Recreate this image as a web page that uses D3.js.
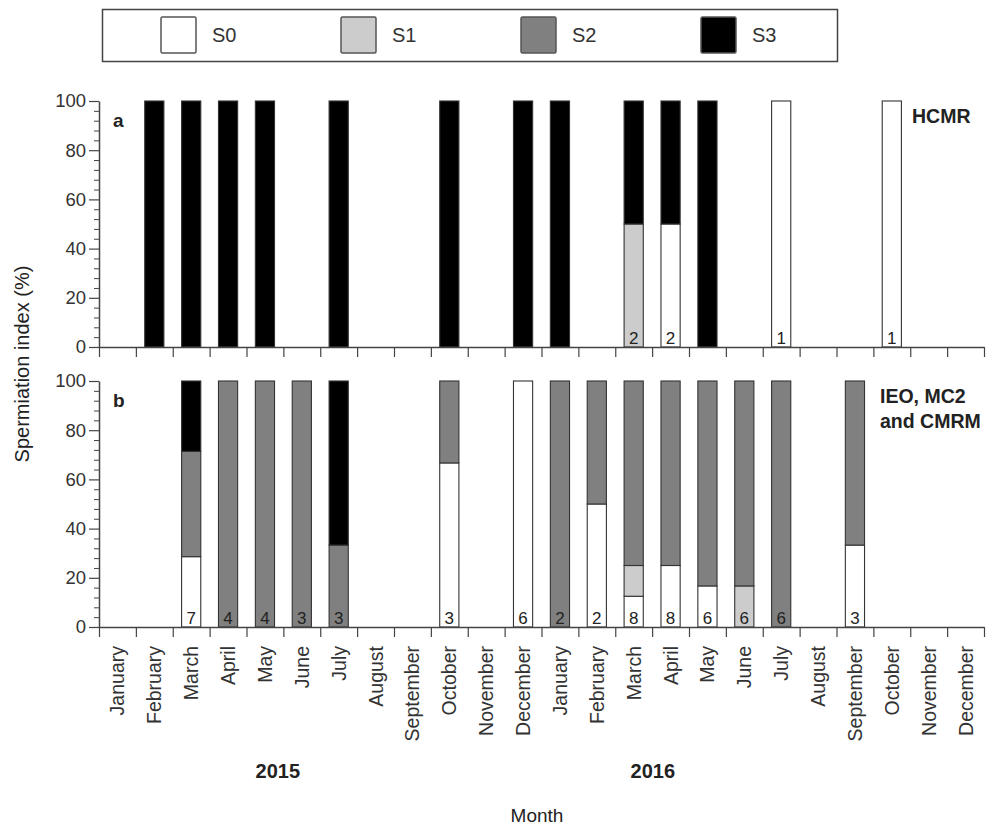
<!DOCTYPE html>
<html><head><meta charset="utf-8">
<script src="https://cdn.jsdelivr.net/npm/d3@7"></script>
<style>
body{margin:0;background:#fff}
svg{display:block;font-family:"Liberation Sans",Arial,Helvetica,sans-serif}
</style>
</head><body>
<svg id="chart" width="988" height="827"></svg>
<script>
// ---------- DATA ----------
const monthNames = ["January","February","March","April","May","June","July","August","September","October","November","December"];
const categories = monthNames.concat(monthNames); // Jan 2015 ... Dec 2016
const years = ["2015","2016"];
const stages = ["S0","S1","S2","S3"];
const stageColors = ["#ffffff","#cccccc","#808080","#000000"];
const yTicks = [0,20,40,60,80,100];

// Panel a: HCMR (percent of each stage per month)
const hcmrS0 = [0,0,0,0,0,0,0,0,0,0,0,0, 0,0,0,50,0,0,100,0,0,100,0,0];
const hcmrS1 = [0,0,0,0,0,0,0,0,0,0,0,0, 0,0,50,0,0,0,0,0,0,0,0,0];
const hcmrS2 = [0,0,0,0,0,0,0,0,0,0,0,0, 0,0,0,0,0,0,0,0,0,0,0,0];
const hcmrS3 = [0,100,100,100,100,0,100,0,0,100,0,100, 100,0,50,50,100,0,0,0,0,0,0,0];
const hcmrN  = [null,null,null,null,null,null,null,null,null,null,null,null, null,null,2,2,null,null,1,null,null,1,null,null];

// Panel b: IEO, MC2 and CMRM
const ieoS0 = [0,0,28.6,0,0,0,0,0,0,66.7,0,100, 0,50,12.5,25,16.7,0,0,0,33.3,0,0,0];
const ieoS1 = [0,0,0,0,0,0,0,0,0,0,0,0, 0,0,12.5,0,0,16.7,0,0,0,0,0,0];
const ieoS2 = [0,0,42.8,100,100,100,33.3,0,0,33.3,0,0, 100,50,75,75,83.3,83.3,100,0,66.7,0,0,0];
const ieoS3 = [0,0,28.6,0,0,0,66.7,0,0,0,0,0, 0,0,0,0,0,0,0,0,0,0,0,0];
const ieoN  = [null,null,7,4,4,3,3,null,null,3,null,6, 2,2,8,8,6,6,6,null,3,null,null,null];

// ---------- LAYOUT ----------
const svg = d3.select("#chart");
const X0 = 99, X1 = 984;
const panels = [
  {y0:347, y100:101, s:[hcmrS0,hcmrS1,hcmrS2,hcmrS3], n:hcmrN, letter:"a", name:["HCMR"]},
  {y0:627, y100:381, s:[ieoS0,ieoS1,ieoS2,ieoS3], n:ieoN, letter:"b", name:["IEO, MC2","and CMRM"]}
];
const idx = d3.range(categories.length);
const x = d3.scaleBand().domain(idx).range([X0,X1]).paddingInner(0.48).paddingOuter(0.24);
const xb = d3.scaleLinear().domain([0,categories.length]).range([X0,X1]);
const color = d3.scaleOrdinal().domain(stages).range(stageColors);
const axisCol = "#444";

panels.forEach(p => {
  const y = d3.scaleLinear().domain([0,100]).range([p.y0,p.y100]);
  const rows = idx.map(i => { const r = {i}; stages.forEach((k,j)=> r[k]=p.s[j][i]); return r; });
  const stacked = d3.stack().keys(stages)(rows);
  const g = svg.append("g");
  stacked.forEach(layer => {
    g.selectAll(null).data(layer.filter(d => d[1]-d[0] > 0)).join("rect")
      .attr("x", d => x(d.data.i)).attr("width", x.bandwidth())
      .attr("y", d => y(d[1])).attr("height", d => y(d[0]) - y(d[1]))
      .attr("fill", color(layer.key)).attr("stroke", "#333").attr("stroke-width", 1.1);
  });
  // n labels
  g.selectAll(null).data(idx.filter(i => p.n[i] != null)).join("text")
    .attr("x", i => x(i) + x.bandwidth()/2).attr("y", y(0) - 3)
    .attr("text-anchor","middle").attr("font-size",17).attr("fill","#222")
    .text(i => p.n[i]);
  // y axis major
  const ya = svg.append("g").attr("transform",`translate(${X0},0)`)
    .call(d3.axisLeft(y).tickValues(yTicks).tickSize(10).tickSizeOuter(0).tickPadding(3));
  ya.selectAll("text").attr("font-size",18.5).attr("fill","#333").attr("font-family",null);
  ya.selectAll("line").attr("stroke",axisCol).attr("stroke-width",1.2);
  ya.select(".domain").attr("stroke",axisCol).attr("stroke-width",1.5);
  // y axis minor
  const ym = svg.append("g").attr("transform",`translate(${X0},0)`)
    .call(d3.axisLeft(y).tickValues(d3.range(0,101,4).filter(v => v%20 !== 0)).tickSize(5).tickFormat(""));
  ym.select(".domain").remove();
  ym.selectAll("line").attr("stroke",axisCol).attr("stroke-width",1);
  // x axis
  const xa = svg.append("g").attr("transform",`translate(0,${p.y0})`)
    .call(d3.axisBottom(xb).tickValues(d3.range(categories.length+1)).tickSize(10).tickSizeOuter(0).tickFormat(""));
  xa.select(".domain").attr("stroke",axisCol).attr("stroke-width",1.5);
  xa.selectAll("line").attr("stroke",axisCol).attr("stroke-width",1.2);
  // panel letter
  svg.append("text").attr("x",113).attr("y",p.y100+26).attr("font-size",19).attr("font-weight","bold")
    .attr("fill","#222").text(p.letter);
  // panel name
  svg.append("g").selectAll("text").data(p.name).join("text")
    .attr("x", p.name.length>1 ? 880 : 912).attr("y",(d,k)=> p.y100 + 22 + k*25)
    .attr("font-size",19.5).attr("font-weight","bold").attr("fill","#222").text(d=>d);
});

// month labels under the bottom panel
svg.append("g").selectAll("text").data(idx).join("text")
  .attr("transform", i => `translate(${x(i)+x.bandwidth()/2+7},${panels[1].y0+19}) rotate(-90)`)
  .attr("text-anchor","end").attr("font-size",19.5).attr("fill","#333")
  .text(i => categories[i]);

// year labels
const yearPos = [4.85, 15.02];
svg.append("g").selectAll("text").data(years).join("text")
  .attr("x",(d,k)=> xb(yearPos[k])).attr("y",778).attr("text-anchor","middle")
  .attr("font-size",20).attr("font-weight","bold").attr("fill","#222").text(d=>d);

// axis titles
svg.append("text").attr("x",537).attr("y",822).attr("text-anchor","middle")
  .attr("font-size",19).attr("fill","#222").text("Month");
svg.append("text").attr("transform","translate(29,364) rotate(-90)").attr("text-anchor","middle")
  .attr("font-size",20).attr("fill","#222").text("Spermiation index (%)");

// legend
const lg = svg.append("g");
lg.append("rect").attr("x",102.5).attr("y",9.5).attr("width",735).attr("height",52)
  .attr("fill","#fff").attr("stroke","#444").attr("stroke-width",1.5);
const legX = d3.scalePoint().domain(stages).range([161,701]);
lg.selectAll("rect.sw").data(stages).join("rect").attr("class","sw")
  .attr("x",d=>legX(d)).attr("y",17).attr("width",35).attr("height",36).attr("rx",1.5)
  .attr("fill",d=>color(d)).attr("stroke","#555").attr("stroke-width",1.5);
lg.selectAll("text").data(stages).join("text")
  .attr("x",d=>legX(d)+51).attr("y",42).attr("font-size",20).attr("fill","#333").text(d=>d);
</script>
</body></html>
